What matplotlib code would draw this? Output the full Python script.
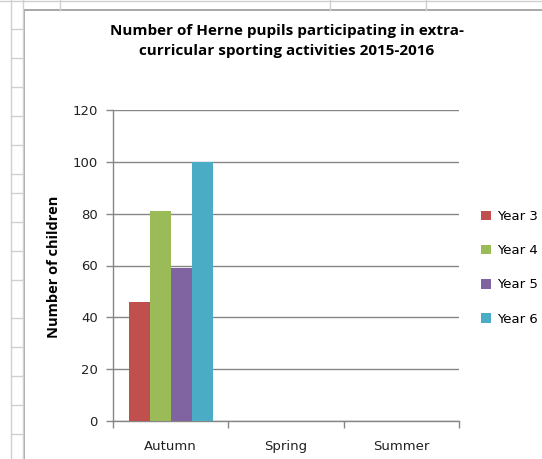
import numpy as np
import matplotlib
matplotlib.use("Agg")
import matplotlib.pyplot as plt
from matplotlib.lines import Line2D
from matplotlib.patches import Rectangle

terms = ["Autumn", "Spring", "Summer"]
year_labels = ["Year 3", "Year 4", "Year 5", "Year 6"]
year3 = [46, 0, 0]
year4 = [81, 0, 0]
year5 = [59, 0, 0]
year6 = [100, 0, 0]
y_ticks = [0, 20, 40, 60, 80, 100, 120]

colors = ["#C0504D", "#9BBB59", "#8064A2", "#4BACC6"]
grey = "#868686"

W, H = 542, 459
fig = plt.figure(figsize=(W / 100, H / 100), dpi=100)


def fx(px):
    return px / W


def fy(py):
    return 1 - py / H


# spreadsheet cells behind the chart
cell = "#d0d0d0"
for x in [11, 23]:
    fig.add_artist(Line2D([fx(x), fx(x)], [0, 1], color=cell, lw=1))
for y in [29, 58, 87, 116, 145, 174, 193, 222, 251, 280, 318, 347, 376, 405, 434]:
    fig.add_artist(Line2D([fx(11), fx(23)], [fy(y), fy(y)], color=cell, lw=1))
for x in [60, 330, 426]:
    fig.add_artist(Line2D([fx(x), fx(x)], [fy(0), fy(10)], color=cell, lw=1))
fig.add_artist(Line2D([0, 1], [fy(1), fy(1)], color=cell, lw=1))

# chart area border
fig.add_artist(Rectangle((fx(24), fy(470)), fx(560), 460 / H, fill=False,
                         edgecolor="#9a9a9a", lw=1.2))

ax = fig.add_axes([fx(113), fy(421), fx(459 - 113), (421 - 110) / H])

series = [year3, year4, year5, year6]
x = np.arange(len(terms))
w = 1 / 5.5
for i, vals in enumerate(series):
    ax.bar(x + (i - 1.5) * w, vals, width=w, color=colors[i], lw=0,
           label=year_labels[i], zorder=3)

ax.set_xlim(-0.5, 2.5)
ax.set_ylim(0, 120)
ax.set_yticks(y_ticks)
ax.set_yticklabels([str(t) for t in y_ticks], fontsize=9.5, color="#222222",
                   family="DejaVu Sans")
ax.yaxis.grid(True, color=grey, lw=1, zorder=0)
ax.set_xticks(x)
ax.set_xticklabels(terms, fontsize=9.5, color="#222222", family="DejaVu Sans")
ax.set_xticks([-0.5, 0.5, 1.5, 2.5], minor=True)
ax.tick_params(axis="x", which="major", length=0, pad=14)
ax.tick_params(axis="x", which="minor", length=5, color=grey, width=1)
ax.tick_params(axis="y", length=5, color=grey, width=1, pad=6)

for s in ["top", "right"]:
    ax.spines[s].set_visible(False)
for s in ["left", "bottom"]:
    ax.spines[s].set_color(grey)
    ax.spines[s].set_linewidth(1)

fig.text(fx(54), fy(267), "Number of children", rotation=90, ha="center",
         va="center", fontsize=10.5, fontweight="bold", family="Open Sans")

fig.text(fx(287), fy(41), "Number of Herne pupils participating in extra-\n"
         "curricular sporting activities 2015-2016", ha="center", va="center",
         fontsize=11, fontweight="bold", family="Open Sans", linespacing=1.55)

ax.legend(loc="upper left", bbox_to_anchor=(fx(476), fy(205)),
          bbox_transform=fig.transFigure, frameon=False,
          handlelength=0.7, handleheight=0.7, handletextpad=0.5,
          labelspacing=1.6, borderaxespad=0, prop={"family": "DejaVu Sans", "size": 9.5})

fig.savefig("out.png", dpi=100)
